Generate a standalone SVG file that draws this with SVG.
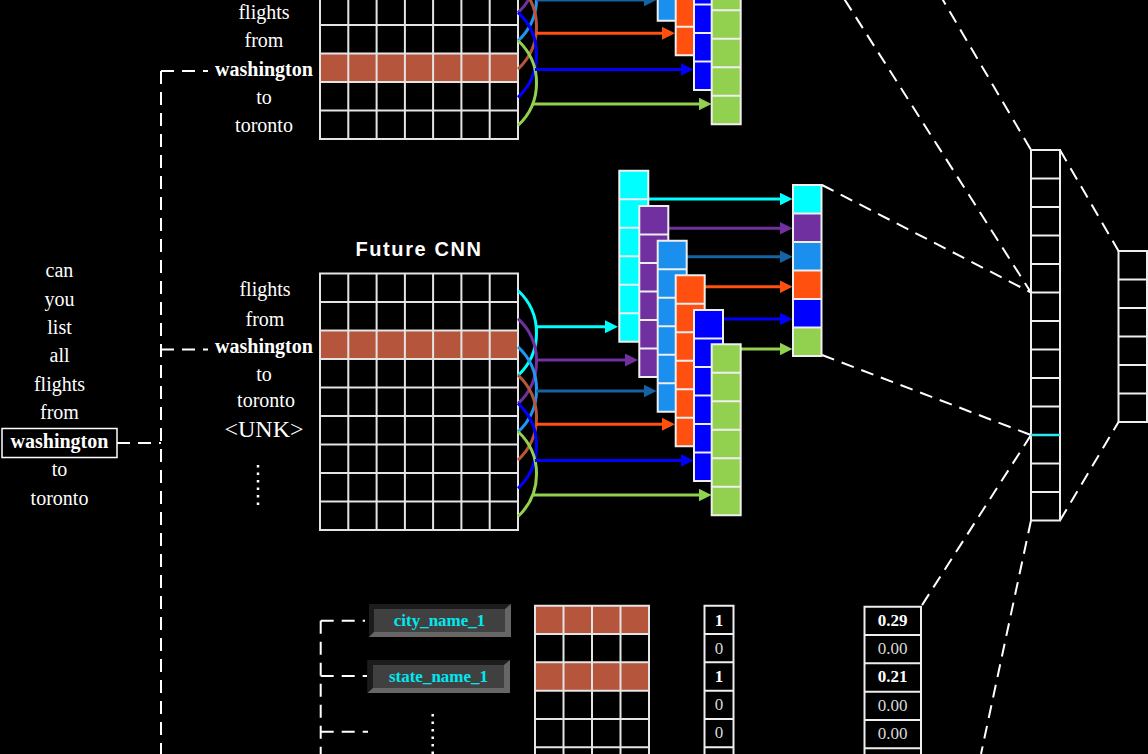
<svg xmlns="http://www.w3.org/2000/svg" xmlns:xlink="http://www.w3.org/1999/xlink" width="1148" height="754" viewBox="0 0 1148 754">
<style>
.grid{fill:none;stroke:#e4e4e4;stroke-width:2}
.cellb{fill:none;stroke:#eeeeee;stroke-width:2}
.dash{fill:none;stroke:#ffffff;stroke-width:2;stroke-dasharray:13 8}
.dots{fill:none;stroke:#ffffff;stroke-width:2.5;stroke-dasharray:2.5 5}
.word{font-family:"Liberation Serif","Times New Roman",serif;font-size:20px;fill:#ffffff;text-anchor:middle}
.b{font-weight:bold}
.arc{fill:none;stroke-width:3}
.arr{fill:none;stroke-width:3}
.num{font-family:"Liberation Serif","Times New Roman",serif;font-size:17px;text-anchor:middle;fill:#d8d8d8}
.numb{font-weight:bold;fill:#ffffff}
.btn{font-family:"Liberation Serif","Times New Roman",serif;font-size:17px;font-weight:bold;fill:#00E8F0;text-anchor:middle}
.title{font-family:"Liberation Sans",Arial,sans-serif;font-size:20px;font-weight:bold;fill:#ffffff;text-anchor:middle;letter-spacing:1.6px}
.red{fill:#B5553C}
</style>
<defs>
<marker id="mCyan" markerWidth="13" markerHeight="13" refX="1" refY="6.5" orient="auto" markerUnits="userSpaceOnUse"><path d="M0,0L13,6.5L0,13Z" fill="#00FFFF"/></marker>
<marker id="mPurple" markerWidth="13" markerHeight="13" refX="1" refY="6.5" orient="auto" markerUnits="userSpaceOnUse"><path d="M0,0L13,6.5L0,13Z" fill="#7030A0"/></marker>
<marker id="mSteel" markerWidth="13" markerHeight="13" refX="1" refY="6.5" orient="auto" markerUnits="userSpaceOnUse"><path d="M0,0L13,6.5L0,13Z" fill="#1463A5"/></marker>
<marker id="mOrange" markerWidth="13" markerHeight="13" refX="1" refY="6.5" orient="auto" markerUnits="userSpaceOnUse"><path d="M0,0L13,6.5L0,13Z" fill="#FF5010"/></marker>
<marker id="mBlue" markerWidth="13" markerHeight="13" refX="1" refY="6.5" orient="auto" markerUnits="userSpaceOnUse"><path d="M0,0L13,6.5L0,13Z" fill="#0000FF"/></marker>
<marker id="mGreen" markerWidth="13" markerHeight="13" refX="1" refY="6.5" orient="auto" markerUnits="userSpaceOnUse"><path d="M0,0L13,6.5L0,13Z" fill="#92D050"/></marker>
<path id="cells6" class="cellb" d="M0,0H29V171H0Z M0,28.5H29 M0,57H29 M0,85.5H29 M0,114H29 M0,142.5H29"/>
<g id="cnnCore">
  <path class="grid" d="M320,273.5H518V530H320Z M348.3,273.5V530 M376.6,273.5V530 M404.9,273.5V530 M433.1,273.5V530 M461.4,273.5V530 M489.7,273.5V530 M320,302H518 M320,330.5H518 M320,359H518 M320,387.5H518 M320,416H518 M320,444.5H518 M320,473H518 M320,501.5H518"/>
  <path class="arc" stroke="#00FFFF" d="M518,290.5A58,58 0 0 1 518,375.5"/>
  <path class="arc" stroke="#7030A0" d="M518,318.7A58,58 0 0 1 518,403.7"/>
  <path class="arc" stroke="#2196F0" d="M518,346.9A58,58 0 0 1 518,431.9"/>
  <path class="arc" stroke="#B5553A" d="M518,375.1A58,58 0 0 1 518,460.1"/>
  <path class="arc" stroke="#0000FF" d="M518,403.3A58,58 0 0 1 518,488.3"/>
  <path class="arc" stroke="#92D050" d="M518,431.5A58,58 0 0 1 518,516.5"/>
  <path class="arr" stroke="#00FFFF" marker-end="url(#mCyan)" d="M536,326.7H606"/>
  <path class="arr" stroke="#7030A0" marker-end="url(#mPurple)" d="M536.5,360H626"/>
  <path class="arr" stroke="#1463A5" marker-end="url(#mSteel)" d="M536.5,391H644.5"/>
  <path class="arr" stroke="#FF5010" marker-end="url(#mOrange)" d="M536,424.3H663"/>
  <path class="arr" stroke="#0000FF" marker-end="url(#mBlue)" d="M535,460.5H681.5"/>
  <path class="arr" stroke="#92D050" marker-end="url(#mGreen)" d="M532.5,495H699.5"/>
  <rect x="619.3" y="170.7" width="29" height="171" fill="#00FFFF"/><use xlink:href="#cells6" href="#cells6" x="619.3" y="170.7"/>
  <rect x="639.3" y="206" width="29" height="171" fill="#7030A0"/><use xlink:href="#cells6" href="#cells6" x="639.3" y="206"/>
  <rect x="657.7" y="240.7" width="29" height="171" fill="#1A8FEE"/><use xlink:href="#cells6" href="#cells6" x="657.7" y="240.7"/>
  <rect x="675.7" y="275.3" width="29" height="171" fill="#FF5010"/><use xlink:href="#cells6" href="#cells6" x="675.7" y="275.3"/>
  <rect x="694" y="310" width="29" height="171" fill="#0000FF"/><use xlink:href="#cells6" href="#cells6" x="694" y="310"/>
  <rect x="711.7" y="344.3" width="29" height="171" fill="#92D050"/><use xlink:href="#cells6" href="#cells6" x="711.7" y="344.3"/>
</g>
</defs>
<rect width="1148" height="754" fill="#000000"/>

<g id="connectors">
  <path class="dash" d="M161,71V754 M161,71H208 M161,349.5H208 M117,443H161"/>
  <path class="dash" d="M320.7,620.7V754 M320.7,620.7H365 M320.7,676H367 M320.7,731.7H368"/>
  <path class="dash" d="M822,-206L1031,150 M822,-36L1031,292.5 M822,185L1031,292.5 M822,355L1031,435 M1060,150L1118.5,251 M1060,520.5L1118.5,422 M1031,435L921,606.7 M1031,520.5L981,754"/>
  <path class="arr" stroke="#00FFFF" marker-end="url(#mCyan)" d="M648.5,199H780.5"/>
  <path class="arr" stroke="#7030A0" marker-end="url(#mPurple)" d="M668.5,228.3H780.5"/>
  <path class="arr" stroke="#1463A5" marker-end="url(#mSteel)" d="M687,256.7H780.5"/>
  <path class="arr" stroke="#FF5010" marker-end="url(#mOrange)" d="M704.5,286.7H780.5"/>
  <path class="arr" stroke="#0000FF" marker-end="url(#mBlue)" d="M723,319H780.5"/>
  <path class="arr" stroke="#92D050" marker-end="url(#mGreen)" d="M741,349H780.5"/>
</g>

<g id="input-sentence">
  <text class="word" x="59.5" y="277">can</text>
  <text class="word" x="59.5" y="305.5">you</text>
  <text class="word" x="59.5" y="334">list</text>
  <text class="word" x="59.5" y="362">all</text>
  <text class="word" x="59.5" y="390.5">flights</text>
  <text class="word" x="59.5" y="419">from</text>
  <rect x="2" y="428.5" width="115" height="29" fill="none" stroke="#ffffff" stroke-width="1.5"/>
  <text class="word b" x="59.5" y="448">washington</text>
  <text class="word" x="59.5" y="476">to</text>
  <text class="word" x="59.5" y="504.5">toronto</text>
</g>

<g id="past-cnn">
  <rect class="red" x="320" y="53.5" width="198" height="28.5"/>
  <use xlink:href="#cnnCore" href="#cnnCore" transform="translate(0,-391)"/>
  <text class="word" x="264" y="18.5">flights</text>
  <text class="word" x="264" y="47">from</text>
  <text class="word b" x="264" y="75.5">washington</text>
  <text class="word" x="264" y="104">to</text>
  <text class="word" x="264" y="132">toronto</text>
</g>

<g id="future-cnn">
  <text class="title" x="419" y="256">Future CNN</text>
  <rect class="red" x="320" y="330.5" width="198" height="28.5"/>
  <use xlink:href="#cnnCore" href="#cnnCore"/>
  <text class="word" x="265" y="296">flights</text>
  <text class="word" x="265" y="326">from</text>
  <text class="word b" x="264" y="353">washington</text>
  <text class="word" x="264" y="380.5">to</text>
  <text class="word" x="266" y="407">toronto</text>
  <text class="word" x="264" y="437" style="font-size:24px">&lt;UNK&gt;</text>
  <path class="dots" d="M258,465V509"/>
</g>

<g id="pooled-vector">
  <rect x="793" y="185" width="28.5" height="28.5" fill="#00FFFF"/>
  <rect x="793" y="213.5" width="28.5" height="28.5" fill="#7030A0"/>
  <rect x="793" y="242" width="28.5" height="28.5" fill="#1A8FEE"/>
  <rect x="793" y="270.5" width="28.5" height="28.5" fill="#FF5010"/>
  <rect x="793" y="299" width="28.5" height="28.5" fill="#0000FF"/>
  <rect x="793" y="327.5" width="28.5" height="28.5" fill="#92D050"/>
  <path class="cellb" d="M793,185H821.5V356H793Z M793,213.5H821.5 M793,242H821.5 M793,270.5H821.5 M793,299H821.5 M793,327.5H821.5"/>
</g>

<g id="concat-vector">
  <path class="cellb" d="M1031,150H1060V520.5H1031Z M1031,178.5H1060 M1031,207H1060 M1031,235.5H1060 M1031,264H1060 M1031,292.5H1060 M1031,321H1060 M1031,349.5H1060 M1031,378H1060 M1031,406.5H1060 M1031,463.5H1060 M1031,492H1060"/>
  <path d="M1031,435H1060" stroke="#2EE6F0" stroke-width="2.5"/>
</g>

<g id="output-vector">
  <path class="cellb" d="M1118.5,251H1147V422H1118.5Z M1118.5,279.5H1147 M1118.5,308H1147 M1118.5,336.5H1147 M1118.5,365H1147 M1118.5,393.5H1147"/>
</g>

<g id="btn-city">
  <rect x="369" y="604" width="142" height="33" fill="#404040"/>
  <path d="M369,604H511L505,609H374Z M369,604L374,609V632L369,637Z" fill="#1c1c1c"/>
  <path d="M369,637L374,632H505L511,637Z M511,604V637L505,632V609Z" fill="#666666"/>
  <text class="btn" x="439.5" y="626">city_name_1</text>
</g>

<g id="btn-state">
  <rect x="367.7" y="660" width="142.3" height="33" fill="#404040"/>
  <path d="M367.7,660H510L504,665H373Z M367.7,660L373,665V688L367.7,693Z" fill="#1c1c1c"/>
  <path d="M367.7,693L373,688H504L510,693Z M510,660V693L504,688V665Z" fill="#666666"/>
  <text class="btn" x="438.5" y="682">state_name_1</text>
  <path class="dots" d="M432.7,714V754"/>
</g>

<g id="embedding-matrix">
  <rect class="red" x="535" y="605.7" width="114" height="28.3"/>
  <rect class="red" x="535" y="662.3" width="114" height="28.4"/>
  <path class="grid" d="M535,605.7H649V780H535Z M563.5,605.7V780 M592,605.7V780 M620.5,605.7V780 M535,634H649 M535,662.3H649 M535,690.7H649 M535,719H649 M535,747.3H649"/>
</g>

<g id="binary-vector">
  <path class="cellb" d="M704.5,605.7H733.5V780H704.5Z M704.5,634H733.5 M704.5,662.3H733.5 M704.5,690.7H733.5 M704.5,719H733.5 M704.5,747.3H733.5"/>
  <text class="num numb" x="719" y="625.5">1</text>
  <text class="num" x="719" y="653.5">0</text>
  <text class="num numb" x="719" y="682">1</text>
  <text class="num" x="719" y="710">0</text>
  <text class="num" x="719" y="737.5">0</text>
</g>

<g id="score-vector">
  <path class="cellb" d="M864.5,606.7H921V780H864.5Z M864.5,635H921 M864.5,663.3H921 M864.5,691.7H921 M864.5,720H921 M864.5,748.3H921"/>
  <text class="num numb" x="892.7" y="626">0.29</text>
  <text class="num" x="892.7" y="654">0.00</text>
  <text class="num numb" x="892.7" y="682.3">0.21</text>
  <text class="num" x="892.7" y="710.5">0.00</text>
  <text class="num" x="892.7" y="738.5">0.00</text>
</g>
</svg>
